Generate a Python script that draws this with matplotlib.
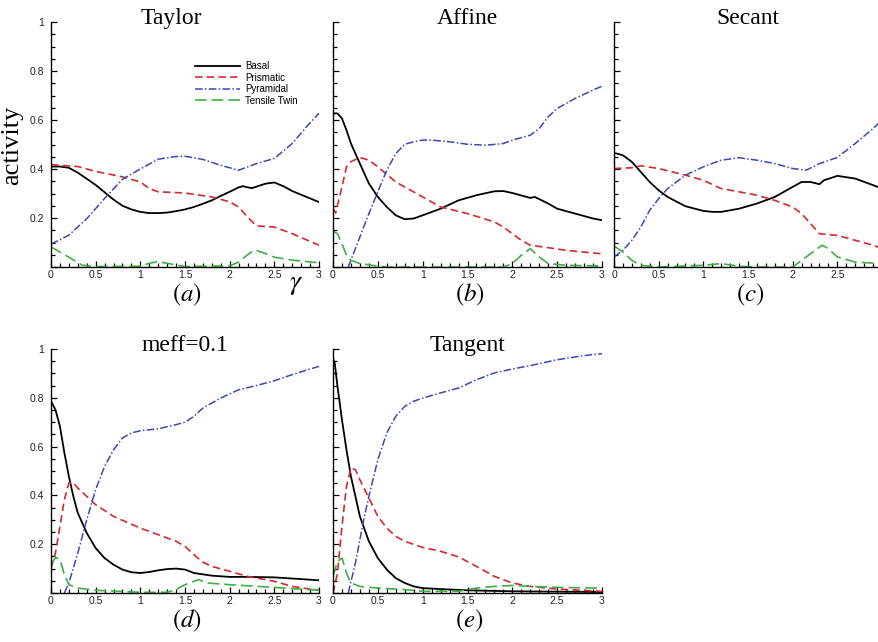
import numpy as np
import matplotlib
matplotlib.use("Agg")
import matplotlib.pyplot as plt
from matplotlib.ticker import MultipleLocator, FuncFormatter

plt.rcParams['mathtext.fontset'] = 'stix'

# ---- data (gamma, activity) ----
taylor_basal_x = [0, .1, .2, .3, .4, .5, .6, .7, .8, .9, 1.0, 1.1, 1.2, 1.3, 1.4, 1.5, 1.6, 1.7, 1.8, 1.9,
                  2.0, 2.1, 2.15, 2.2, 2.25, 2.3, 2.4, 2.5, 2.6, 2.7, 2.8, 2.9, 3.0]
taylor_basal_y = [.41, .41, .405, .385, .36, .335, .305, .275, .25, .235, .225, .22, .22, .222, .228, .235, .245,
                  .258, .272, .29, .307, .325, .33, .325, .322, .328, .34, .345, .33, .31, .295, .28, .265]
taylor_prism_x = [0, .3, .5, .8, 1.0, 1.1, 1.2, 1.5, 1.8, 2.0, 2.1, 2.2, 2.3, 2.5, 2.7, 3.0]
taylor_prism_y = [.418, .41, .39, .368, .347, .32, .307, .302, .286, .266, .245, .204, .168, .163, .136, .089]
taylor_pyr_x = [0, .2, .4, .6, .8, 1.0, 1.2, 1.4, 1.5, 1.7, 1.9, 2.1, 2.3, 2.5, 2.7, 2.9, 3.0]
taylor_pyr_y = [.093, .13, .197, .28, .358, .40, .44, .451, .452, .439, .415, .395, .422, .443, .504, .589, .627]
taylor_twin_x = [0, .2, .35, .5, 1.0, 1.1, 1.2, 1.3, 1.5, 2.0, 2.1, 2.2, 2.28, 2.4, 2.5, 2.7, 3.0]
taylor_twin_y = [.082, .04, .007, .002, .003, .015, .022, .015, .002, .005, .02, .05, .07, .055, .04, .028, .017]

affine_basal_x = [0, .05, .1, .15, .2, .3, .4, .5, .6, .7, .8, .9, 1.0, 1.2, 1.4, 1.6, 1.8, 1.9, 2.0, 2.2,
                  2.25, 2.4, 2.5, 2.7, 2.9, 3.0]
affine_basal_y = [.627, .627, .606, .559, .504, .422, .341, .286, .245, .211, .195, .198, .211, .238, .272, .293,
                  .309, .31, .302, .282, .286, .259, .238, .218, .198, .191]
affine_prism_x = [0, .03, .1, .15, .2, .3, .4, .5, .7, 1.0, 1.2, 1.5, 1.8, 1.9, 2.0, 2.1, 2.2, 2.4, 2.6, 2.8, 3.0]
affine_prism_y = [.238, .22, .327, .409, .43, .447, .436, .409, .347, .286, .245, .218, .184, .163, .136, .109,
                  .089, .079, .068, .061, .054]
affine_pyr_x = [.17, .3, .4, .5, .6, .7, .8, .9, 1.0, 1.1, 1.3, 1.5, 1.7, 1.9, 2.0, 2.2, 2.3, 2.4, 2.5, 2.7, 2.9, 3.0]
affine_pyr_y = [0, .123, .218, .307, .395, .463, .501, .511, .518, .518, .511, .501, .497, .504, .518, .538, .565,
                .613, .647, .688, .722, .738]
affine_twin_x = [0, .05, .1, .15, .2, .3, .5, .6, 1.9, 2.0, 2.1, 2.2, 2.3, 2.4, 2.6, 3.0]
affine_twin_y = [.146, .136, .095, .048, .027, .014, .004, 0, 0, .014, .048, .075, .041, .014, .007, .004]

secant_basal_x = [0, .1, .2, .3, .4, .5, .6, .8, 1.0, 1.1, 1.2, 1.4, 1.6, 1.8, 2.0, 2.1, 2.2, 2.3, 2.35, 2.5,
                  2.7, 2.9, 3.0]
secant_basal_y = [.466, .456, .429, .388, .347, .313, .286, .248, .229, .225, .225, .238, .259, .286, .327, .347,
                  .347, .338, .354, .372, .361, .334, .32]
secant_prism_x = [0, .2, .3, .5, .8, 1.0, 1.2, 1.4, 1.6, 1.8, 2.0, 2.1, 2.2, 2.3, 2.4, 2.5, 2.7, 2.9, 3.0]
secant_prism_y = [.402, .405, .413, .402, .375, .354, .32, .307, .293, .272, .245, .218, .177, .136, .132, .129,
                  .109, .089, .075]
secant_pyr_x = [0, .1, .2, .3, .4, .5, .6, .8, 1.0, 1.2, 1.4, 1.6, 1.8, 2.0, 2.15, 2.3, 2.5, 2.7, 2.9, 3.0]
secant_pyr_y = [.041, .068, .109, .163, .232, .279, .32, .375, .409, .436, .446, .436, .422, .402, .395, .422,
                .447, .504, .565, .6]
secant_twin_x = [0, .1, .2, .3, .5, 1.0, 1.2, 1.4, 1.6, 2.0, 2.1, 2.2, 2.33, 2.4, 2.5, 2.7, 3.0]
secant_twin_y = [.086, .061, .027, .007, 0, .007, .014, .003, 0, 0, .027, .054, .089, .075, .041, .02, .014]

meff_basal_x = [0, .05, .1, .15, .2, .25, .3, .4, .5, .6, .7, .8, .9, 1.0, 1.1, 1.2, 1.3, 1.4, 1.5, 1.6, 1.8,
                2.0, 2.2, 2.5, 2.8, 3.0]
meff_basal_y = [.786, .751, .683, .574, .478, .396, .328, .246, .184, .143, .116, .096, .085, .082, .086, .093,
                .098, .1, .096, .082, .071, .066, .066, .064, .057, .052]
meff_prism_x = [0, .05, .1, .15, .2, .25, .3, .4, .5, .7, 1.0, 1.2, 1.4, 1.5, 1.6, 1.7, 1.8, 2.0, 2.2, 2.5,
                2.7, 2.9, 3.0]
meff_prism_y = [.102, .164, .273, .383, .451, .451, .43, .396, .362, .314, .266, .239, .212, .191, .157, .126,
                .109, .089, .068, .048, .027, .016, .011]
meff_pyr_x = [.15, .2, .3, .4, .5, .6, .7, .8, .9, 1.0, 1.2, 1.4, 1.5, 1.6, 1.7, 1.9, 2.1, 2.3, 2.5, 2.7, 2.9, 3.0]
meff_pyr_y = [0, .041, .164, .3, .424, .519, .587, .635, .656, .665, .673, .69, .7, .724, .758, .799, .833, .85,
              .87, .895, .918, .929]
meff_twin_x = [0, .05, .1, .15, .2, .3, .5, 1.0, 1.3, 1.4, 1.5, 1.65, 1.75, 2.0, 2.5, 3.0]
meff_twin_y = [.116, .146, .139, .075, .034, .02, .011, .003, .003, .014, .034, .055, .041, .034, .023, .011]

tangent_basal_x = [0, .02, .05, .1, .15, .2, .3, .4, .5, .6, .7, .8, .9, 1.0, 1.2, 1.5, 2.0, 3.0]
tangent_basal_y = [.963, .94, .847, .71, .587, .478, .314, .212, .143, .096, .061, .041, .027, .02, .016, .011,
                   .007, .004]
tangent_prism_x = [0, .05, .1, .15, .2, .25, .3, .4, .5, .6, .7, .8, 1.0, 1.2, 1.4, 1.6, 1.8, 2.0, 2.2, 2.5, 3.0]
tangent_prism_y = [0, .082, .273, .437, .512, .505, .464, .389, .314, .266, .232, .212, .187, .171, .148, .109,
                   .068, .041, .027, .016, .007]
tangent_pyr_x = [.17, .25, .3, .35, .4, .5, .6, .7, .8, .9, 1.0, 1.2, 1.4, 1.6, 1.8, 2.0, 2.2, 2.5, 2.8, 3.0]
tangent_pyr_y = [0, .123, .219, .314, .396, .546, .656, .724, .765, .786, .799, .82, .84, .874, .902, .918, .932,
                 .956, .973, .981]
tangent_twin_x = [0, .05, .1, .15, .2, .3, .5, .8, 1.0, 1.4, 1.6, 1.8, 2.0, 2.2, 2.5, 3.0]
tangent_twin_y = [.068, .13, .143, .082, .041, .027, .02, .014, .007, .007, .02, .027, .031, .027, .023, .02]

series_names = ['Basal', 'Prismatic', 'Pyramidal', 'Tensile Twin']
titles = ['Taylor', 'Affine', 'Secant', 'meff=0.1', 'Tangent']
panel_tags = ['a', 'b', 'c', 'd', 'e']

panels = [
    [(taylor_basal_x, taylor_basal_y), (taylor_prism_x, taylor_prism_y),
     (taylor_pyr_x, taylor_pyr_y), (taylor_twin_x, taylor_twin_y)],
    [(affine_basal_x, affine_basal_y), (affine_prism_x, affine_prism_y),
     (affine_pyr_x, affine_pyr_y), (affine_twin_x, affine_twin_y)],
    [(secant_basal_x, secant_basal_y), (secant_prism_x, secant_prism_y),
     (secant_pyr_x, secant_pyr_y), (secant_twin_x, secant_twin_y)],
    [(meff_basal_x, meff_basal_y), (meff_prism_x, meff_prism_y),
     (meff_pyr_x, meff_pyr_y), (meff_twin_x, meff_twin_y)],
    [(tangent_basal_x, tangent_basal_y), (tangent_prism_x, tangent_prism_y),
     (tangent_pyr_x, tangent_pyr_y), (tangent_twin_x, tangent_twin_y)],
]

styles = [
    dict(color='black', lw=1.3, ls='-'),
    dict(color='#d42a2f', lw=1.2, dashes=(4.5, 2.5)),
    dict(color='#3a48b4', lw=1.1, dashes=(5, 1.5, 1, 1.5)),
    dict(color='#3cb043', lw=1.2, dashes=(7, 3)),
]

W, H = 879, 642
fig = plt.figure(figsize=(W / 100, H / 100), dpi=100)

# axes boxes in pixels: left, top, width, height
boxes = [(51, 22, 268, 245), (333, 22, 269, 245), (614, 22, 268, 245),
         (51, 349, 268, 244), (333, 349, 269, 244)]
title_x = [0.45, 0.5, 0.5, 0.5, 0.5]


def xfmt(v, p):
    return '%g' % round(v, 2)


def yfmt(v, p):
    return '' if v < 0.01 else '%g' % round(v, 2)


def xfmt_clip(v, p):
    # third panel runs off the right edge, its last label is not shown
    return '' if v > 2.9 else '%g' % round(v, 2)


for i, (l, t, w, h) in enumerate(boxes):
    ax = fig.add_axes([l / W, 1 - (t + h) / H, w / W, h / H])
    for (xs, ys), st in zip(panels[i], styles):
        ax.plot(xs, ys, **st)
    ax.set_xlim(0, 3)
    ax.set_ylim(0, 1)
    for s in ['top', 'right']:
        ax.spines[s].set_visible(False)
    for s in ['left', 'bottom']:
        ax.spines[s].set_linewidth(1.0)
    ax.xaxis.set_major_locator(MultipleLocator(0.5))
    ax.xaxis.set_minor_locator(MultipleLocator(0.1))
    ax.yaxis.set_major_locator(MultipleLocator(0.2))
    ax.yaxis.set_minor_locator(MultipleLocator(0.05))
    ax.xaxis.set_major_formatter(FuncFormatter(xfmt_clip if i == 2 else xfmt))
    ax.yaxis.set_major_formatter(FuncFormatter(yfmt))
    ax.tick_params(which='both', direction='in', width=0.9, top=False, right=False,
                   labelsize=7.5, labelcolor='#222222')
    ax.tick_params(which='major', length=4.5)
    ax.tick_params(which='minor', length=3)
    ax.tick_params(axis='x', pad=2)
    ax.tick_params(axis='y', pad=5)
    for lab in ax.get_xticklabels() + ax.get_yticklabels():
        lab.set_family('Liberation Sans')
    if i in (1, 2, 4):
        ax.tick_params(axis='y', labelleft=False)
    ax.text(title_x[i], 0.99, titles[i], transform=ax.transAxes, ha='center', va='baseline',
            family='Liberation Serif', fontsize=17)
    fig.text((l + w / 2 + 2) / W, 1 - (t + h + 28) / H, '$(%s)$' % panel_tags[i],
             ha='center', va='center', fontsize=18)
    if i == 0:
        ax.legend(series_names, loc='upper left', bbox_to_anchor=(0.537, 0.84), frameon=False,
                  prop={'family': 'Liberation Sans', 'size': 7}, handlelength=4.6,
                  handletextpad=0.6, labelspacing=0.15, borderpad=0, borderaxespad=0)

fig.text(12 / W, 1 - 145 / H, 'activity', rotation=90, ha='center', va='center',
         family='Liberation Serif', fontsize=19)
fig.text(296 / W, 1 - 283 / H, r'$\gamma$', ha='center', va='center', fontsize=20)

fig.savefig('out.png', dpi=100)
